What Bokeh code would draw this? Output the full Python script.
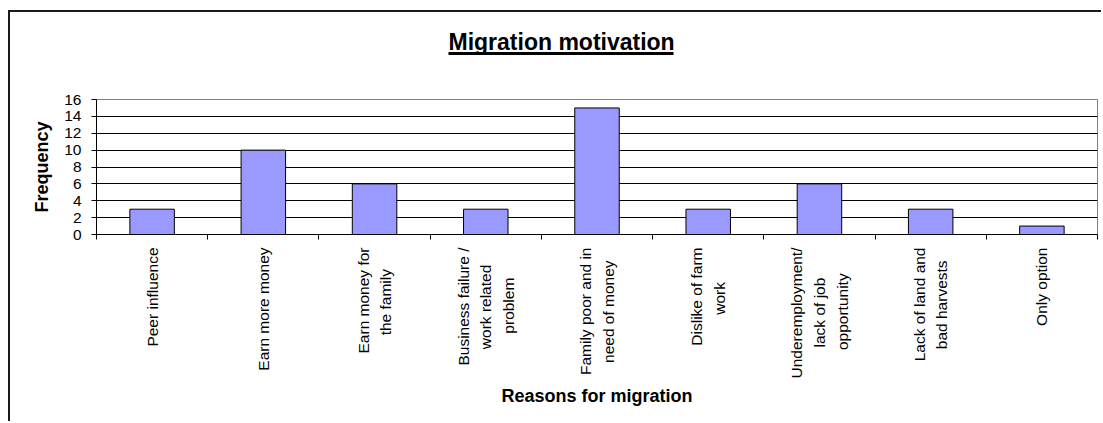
import math
from bokeh.plotting import figure
from bokeh.models import Range1d, FixedTicker, LinearAxis
from bokeh.embed import file_html
from bokeh.resources import INLINE

# --- data -------------------------------------------------------------
categories = [
    "Peer influence",
    "Earn more money",
    "Earn money for\nthe family",
    "Business failure /\nwork related\nproblem",
    "Family poor and in\nneed of money",
    "Dislike of farm\nwork",
    "Underemployment/\nlack of job\nopportunity",
    "Lack of land and\nbad harvests",
    "Only option",
]
frequency = [3, 10, 6, 3, 15, 3, 6, 3, 1]
y_ticks = [0, 2, 4, 6, 8, 10, 12, 14, 16]

title_text = "Migration motivation"
x_title = "Reasons for migration"
y_title = "Frequency"

# trailing padding (in spaces) per label line, so that wrapped lines sit
# centred on each other once the axis right-aligns them
line_pad = [
    [0],
    [0],
    [0, 5],
    [0, 4, 7],
    [0, 3],
    [0, 8],
    [0, 7, 6],
    [0, 3],
    [0],
]

# --- layout constants (pixels, page coordinates) -----------------------
W, H = 1103, 423
BOX_L, BOX_T, BOX_LINE = 8, 10, 2          # outer chart-area border
FRAME_L, FRAME_R, FRAME_T, FRAME_B = 96, 1097, 99, 234
TITLE_L, TITLE_R, UNDERLINE_Y = 448, 673, 52.5
n = len(categories)
FONT = "Liberation Sans"

off_x = BOX_L + BOX_LINE
off_y = BOX_T + BOX_LINE
fig_w = W - off_x
fig_h = H - off_y

p = figure(
    width=fig_w, height=fig_h,
    x_range=Range1d(0, n), y_range=Range1d(y_ticks[0], y_ticks[-1]),
    output_backend="svg", toolbar_location=None,
    min_border_left=FRAME_L - off_x, min_border_right=W - FRAME_R,
    min_border_top=FRAME_T - off_y, min_border_bottom=H - FRAME_B,
)
p.margin = (BOX_T, 0, 0, BOX_L)
p.styles = {
    "border-left": f"{BOX_LINE}px solid #1a1a1a",
    "border-top": f"{BOX_LINE}px solid #1a1a1a",
}
p.background_fill_color = "white"
p.border_fill_color = "white"
p.outline_line_color = "#808080"
p.outline_line_width = 1

ux = (FRAME_R - FRAME_L) / n
def px_x(px):
    return (px - FRAME_L) / ux

# bars
centers = [i + 0.5 for i in range(n)]
p.vbar(x=centers, top=frequency, width=0.4, bottom=0,
       fill_color="#9999FF", line_color="black", line_width=1)

# grid
p.xgrid.visible = False
p.ygrid.ticker = FixedTicker(ticks=y_ticks)
p.ygrid.grid_line_color = "black"
p.ygrid.grid_line_width = 1

# x axis: labels at category centres, ticks at category boundaries
def padded(label, pads):
    lines = label.split("\n")
    return "\n".join(l + " " * k for l, k in zip(lines, pads))

xa = p.xaxis[0]
xa.ticker = FixedTicker(ticks=centers, minor_ticks=list(range(n + 1)))
xa.major_label_overrides = {
    c: padded(lab, pad) for c, lab, pad in zip(centers, categories, line_pad)
}
xa.major_label_orientation = math.pi / 2
xa.major_tick_out = 0
xa.major_tick_in = 0
xa.minor_tick_out = 5
xa.minor_tick_in = 0
xa.minor_tick_line_color = "black"
xa.axis_line_color = "black"
xa.major_label_text_font = FONT
xa.major_label_text_font_size = "15.5px"
xa.major_label_text_color = "black"
xa.major_label_text_line_height = 1.33
xa.major_label_standoff = 8
xa.axis_label = x_title
xa.axis_label_text_font = FONT
xa.axis_label_text_font_size = "18px"
xa.axis_label_text_font_style = "bold"
xa.axis_label_text_color = "black"
xa.axis_label_standoff = 5

# y axis
ya = p.yaxis[0]
ya.ticker = FixedTicker(ticks=y_ticks)
ya.minor_tick_out = 0
ya.minor_tick_in = 0
ya.major_tick_out = 5
ya.major_tick_in = 0
ya.major_tick_line_color = "black"
ya.axis_line_color = "black"
ya.major_label_text_font = FONT
ya.major_label_text_font_size = "15.5px"
ya.major_label_text_color = "black"
ya.major_label_standoff = 10
ya.axis_label = y_title
ya.axis_label_text_font = FONT
ya.axis_label_text_font_size = "18px"
ya.axis_label_text_font_style = "bold"
ya.axis_label_text_color = "black"
ya.axis_label_standoff = 9

# title, underlined by a short above-axis rule lifted off the frame by an
# invisible spacer axis
spacer = LinearAxis(
    ticker=FixedTicker(ticks=[n / 2]), axis_line_alpha=0,
    major_tick_out=round(FRAME_T - UNDERLINE_Y), major_tick_in=0,
    minor_tick_out=0, minor_tick_in=0,
    major_tick_line_alpha=0, minor_tick_line_alpha=0,
    major_label_standoff=0, major_label_text_font_size="0px",
    major_label_overrides={n / 2: ""},
)
underline = LinearAxis(
    ticker=FixedTicker(ticks=[]), bounds=(px_x(TITLE_L), px_x(TITLE_R)),
    axis_line_color="black", axis_line_width=3,
    major_tick_out=0, major_tick_in=0, minor_tick_out=0, minor_tick_in=0,
    major_label_standoff=0,
)
p.add_layout(spacer, "above")
p.add_layout(underline, "above")

p.title.text = title_text
p.title.align = "left"
p.title.offset = TITLE_L - FRAME_L
p.title.standoff = -2
p.title.text_font = FONT
p.title.text_font_size = "23px"
p.title.text_font_style = "bold"
p.title.text_color = "black"

open("out.html", "w").write(file_html(p, INLINE))
